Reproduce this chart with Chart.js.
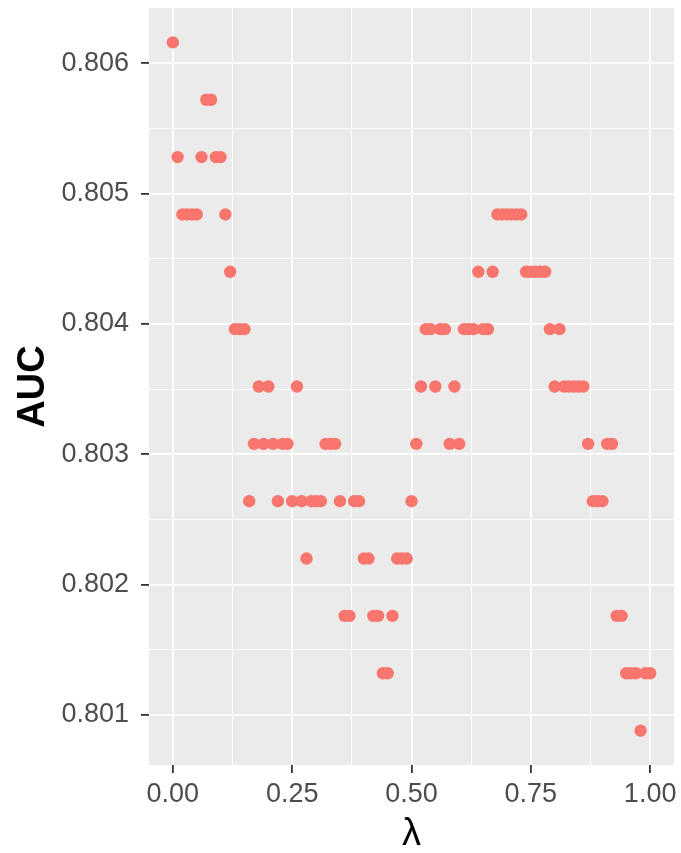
<!DOCTYPE html>
<html>
<head>
<meta charset="utf-8">
<script src="https://cdn.jsdelivr.net/npm/chart.js@4.4.0/dist/chart.umd.min.js"></script>
<style>
  html, body { margin: 0; padding: 0; background: #ffffff; }
  #wrap { width: 681px; height: 853px; }
</style>
</head>
<body>
<div id="wrap"><canvas id="aucChart" width="681" height="853"></canvas></div>
<script>
// lambda values on the x axis
const lambdas = [
  0.00, 0.01, 0.02, 0.03, 0.04, 0.05, 0.06, 0.07, 0.08, 0.09,
  0.10, 0.11, 0.12, 0.13, 0.14, 0.15, 0.16, 0.17, 0.18, 0.19,
  0.20, 0.21, 0.22, 0.23, 0.24, 0.25, 0.26, 0.27, 0.28, 0.29,
  0.30, 0.31, 0.32, 0.33, 0.34, 0.35, 0.36, 0.37, 0.38, 0.39,
  0.40, 0.41, 0.42, 0.43, 0.44, 0.45, 0.46, 0.47, 0.48, 0.49,
  0.50, 0.51, 0.52, 0.53, 0.54, 0.55, 0.56, 0.57, 0.58, 0.59,
  0.60, 0.61, 0.62, 0.63, 0.64, 0.65, 0.66, 0.67, 0.68, 0.69,
  0.70, 0.71, 0.72, 0.73, 0.74, 0.75, 0.76, 0.77, 0.78, 0.79,
  0.80, 0.81, 0.82, 0.83, 0.84, 0.85, 0.86, 0.87, 0.88, 0.89,
  0.90, 0.91, 0.92, 0.93, 0.94, 0.95, 0.96, 0.97, 0.98, 0.99,
  1.00
];

// AUC for each lambda
const aucValues = [
  0.80616, 0.80528, 0.80484, 0.80484, 0.80484, 0.80484, 0.80528, 0.80572, 0.80572, 0.80528,
  0.80528, 0.80484, 0.80440, 0.80396, 0.80396, 0.80396, 0.80264, 0.80308, 0.80352, 0.80308,
  0.80352, 0.80308, 0.80264, 0.80308, 0.80308, 0.80264, 0.80352, 0.80264, 0.80220, 0.80264,
  0.80264, 0.80264, 0.80308, 0.80308, 0.80308, 0.80264, 0.80176, 0.80176, 0.80264, 0.80264,
  0.80220, 0.80220, 0.80176, 0.80176, 0.80132, 0.80132, 0.80176, 0.80220, 0.80220, 0.80220,
  0.80264, 0.80308, 0.80352, 0.80396, 0.80396, 0.80352, 0.80396, 0.80396, 0.80308, 0.80352,
  0.80308, 0.80396, 0.80396, 0.80396, 0.80440, 0.80396, 0.80396, 0.80440, 0.80484, 0.80484,
  0.80484, 0.80484, 0.80484, 0.80484, 0.80440, 0.80440, 0.80440, 0.80440, 0.80440, 0.80396,
  0.80352, 0.80396, 0.80352, 0.80352, 0.80352, 0.80352, 0.80352, 0.80308, 0.80264, 0.80264,
  0.80264, 0.80308, 0.80308, 0.80176, 0.80176, 0.80132, 0.80132, 0.80132, 0.80088, 0.80132,
  0.80132
];

const xTicks = [0, 0.25, 0.5, 0.75, 1];
const yTicks = [0.801, 0.802, 0.803, 0.804, 0.805, 0.806];

// ggplot-like 5% expansion around the data range
function expand(vals) {
  const lo = Math.min(...vals), hi = Math.max(...vals);
  const pad = (hi - lo) * 0.05;
  return [lo - pad, hi + pad];
}
const [xMin, xMax] = expand(lambdas);
const [yMin, yMax] = expand(aucValues);

// major ticks plus minor ticks halfway between them
function withMinor(major, lo, hi) {
  const step = major[1] - major[0];
  const out = [];
  for (let i = -1; i < major.length; i++) {
    const a = i < 0 ? major[0] - step : major[i];
    if (i >= 0) out.push({ value: a, minor: false });
    const m = a + step / 2;
    if (m > lo && m < hi) out.push({ value: m, minor: true });
  }
  return out.sort((p, q) => p.value - q.value);
}

const panelBg = {
  id: "panelBg",
  beforeDraw(chart) {
    const { ctx, chartArea: a } = chart;
    ctx.save();
    ctx.fillStyle = "#EBEBEB";
    ctx.fillRect(a.left, a.top, a.right - a.left, a.bottom - a.top);
    ctx.restore();
  }
};

const fontFamily = "'Liberation Sans', Arial, sans-serif";
const tickFont = { family: fontFamily, size: 27 };
const gridOpts = {
  color: "#FFFFFF",
  lineWidth: c => (c.tick && c.tick.minor ? 0.9 : 1.8),
  tickLength: 8,
  tickWidth: 1.8,
  tickColor: c => (c.tick && c.tick.minor ? "rgba(0,0,0,0)" : "#333333")
};

new Chart(document.getElementById("aucChart").getContext("2d"), {
  type: "scatter",
  data: {
    datasets: [{
      data: lambdas.map((x, i) => ({ x: x, y: aucValues[i] })),
      backgroundColor: "#F8766D",
      borderWidth: 0,
      pointRadius: 6.2,
      pointHoverRadius: 6.2
    }]
  },
  plugins: [panelBg],
  options: {
    responsive: false,
    animation: false,
    devicePixelRatio: 1,
    layout: { padding: { top: 8, right: 7, left: 0, bottom: 0 } },
    plugins: { legend: { display: false }, tooltip: { enabled: false } },
    scales: {
      x: {
        type: "linear",
        min: xMin,
        max: xMax,
        afterBuildTicks: s => { s.ticks = withMinor(xTicks, xMin, xMax); },
        afterFit: s => { s.height = 88; s.paddingLeft = 0; s.paddingRight = 0; },
        border: { display: false },
        grid: gridOpts,
        ticks: {
          autoSkip: false,
          maxRotation: 0,
          padding: 5,
          color: "#4D4D4D",
          font: tickFont,
          callback: (v, i, t) => (t[i].minor ? "" : v.toFixed(2))
        },
        title: {
          display: true,
          text: "λ",
          color: "#000000",
          font: { family: fontFamily, size: 38, lineHeight: 0.95 },
          padding: { top: 0, bottom: 0 }
        }
      },
      y: {
        type: "linear",
        min: yMin,
        max: yMax,
        afterBuildTicks: s => { s.ticks = withMinor(yTicks, yMin, yMax); },
        afterFit: s => { s.width = 149; s.paddingTop = 0; s.paddingBottom = 0; },
        border: { display: false },
        grid: gridOpts,
        ticks: {
          autoSkip: false,
          padding: 12,
          color: "#4D4D4D",
          font: tickFont,
          callback: (v, i, t) => (t[i].minor ? "" : v.toFixed(3))
        },
        title: {
          display: true,
          text: "AUC",
          color: "#000000",
          font: { family: fontFamily, size: 38, weight: "bold", lineHeight: 1 },
          padding: { top: 15, bottom: 0 }
        }
      }
    }
  }
});
</script>
</body>
</html>
